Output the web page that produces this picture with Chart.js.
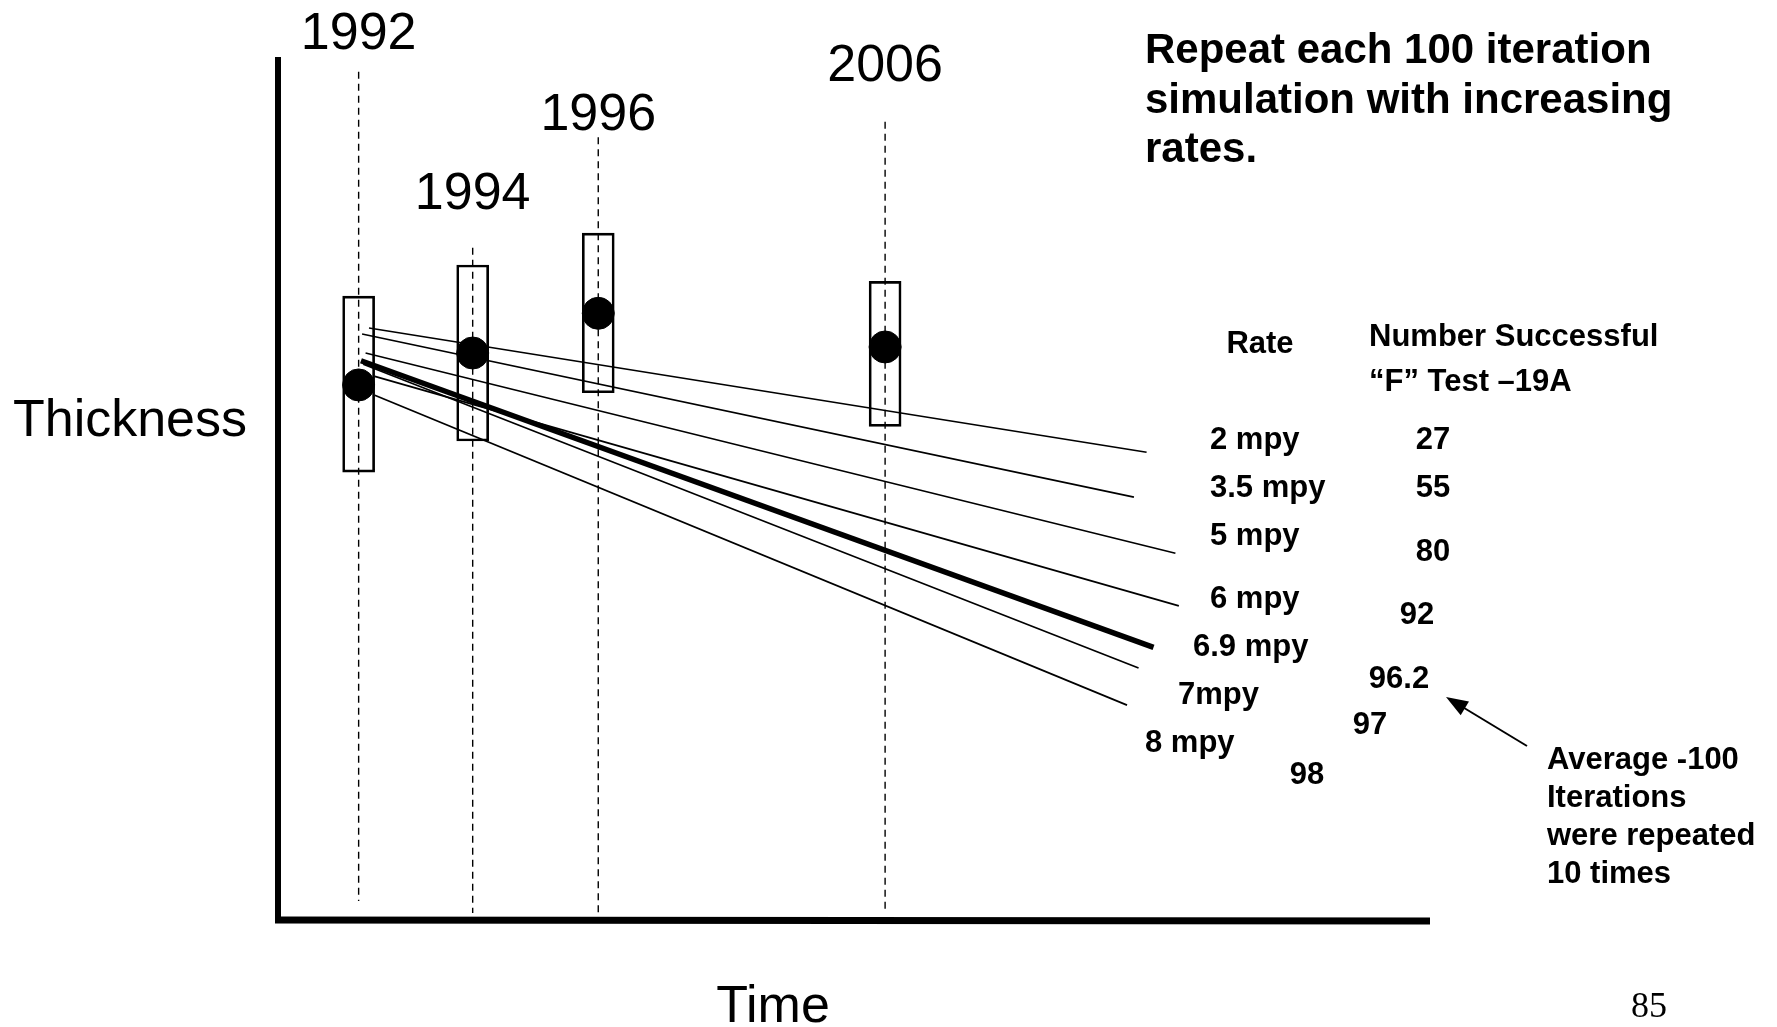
<!DOCTYPE html>
<html>
<head>
<meta charset="utf-8">
<script src="https://cdn.jsdelivr.net/npm/chart.js@4.4.0/dist/chart.umd.min.js"></script>
<style>
  html, body { margin: 0; padding: 0; background: #fff; }
  #wrap { width: 1777px; height: 1027px; position: relative; }
</style>
</head>
<body>
<div id="wrap"><canvas id="chart-thickness"></canvas></div>
<script>
// inspection years, placed on a schematic (non linear) time axis, 0..100
const years = ['1992', '1994', '1996', '2006'];
const timePos = [7.0, 16.9, 27.8, 52.7];
// measured thickness (dot) and its spread (box), schematic units 0..100
const thickness = [62.0, 65.7, 70.3, 66.4];
const boxLow = [51.9, 55.5, 61.1, 57.2];
const boxHigh = [72.3, 75.9, 79.6, 74.0];
// dashed year guides
const guideTop = [98.3, 77.9, 90.7, 92.5];
const guideBottom = [2.2, 0.8, 0.8, 0.8];

// simulated corrosion rates
const rates = ['2 mpy', '3.5 mpy', '5 mpy', '6 mpy', '6.9 mpy', '7mpy', '8 mpy'];
const successCount = ['27', '55', '80', '92', '96.2', '97', '98'];
const rateStartX = [7.9, 7.3, 7.6, 8.4, 7.2, 7.4, 8.4];
const rateStartY = [68.6, 67.9, 65.7, 63.0, 64.8, 64.4, 60.8];
const rateEndX = [75.4, 74.3, 77.9, 78.2, 76.0, 74.7, 73.7];
const rateEndY = [54.2, 49.0, 42.5, 36.4, 31.6, 29.2, 24.9];
const highlightRate = '6.9 mpy';

const SANS = "'Liberation Sans', Arial, Helvetica, sans-serif";

var datasets = [];

// dashed guides
for (let i = 0; i < years.length; i++) {
    datasets.push({
        type: 'line',
        data: [{x: timePos[i], y: guideTop[i]}, {x: timePos[i], y: guideBottom[i]}],
        borderColor: '#000',
        borderWidth: 1.4,
        borderDash: [7, 5],
        pointRadius: 0,
        order: 5
    });
}

// boxes
datasets.push({
    type: 'bar',
    data: timePos.map((x, i) => ({x: x, y: [boxLow[i], boxHigh[i]]})),
    backgroundColor: 'rgba(0,0,0,0)',
    borderColor: '#000',
    borderWidth: 2,
    borderSkipped: false,
    barThickness: 32,
    order: 4
});

// rate lines
for (let i = 0; i < rates.length; i++) {
    datasets.push({
        type: 'line',
        label: rates[i],
        data: [{x: rateStartX[i], y: rateStartY[i]}, {x: rateEndX[i], y: rateEndY[i]}],
        borderColor: '#000',
        borderWidth: rates[i] === highlightRate ? 5.5 : 1.7,
        pointRadius: 0,
        order: 2
    });
}

// dots
datasets.push({
    type: 'scatter',
    data: timePos.map((x, i) => ({x: x, y: thickness[i]})),
    backgroundColor: '#000',
    borderColor: '#000',
    pointRadius: 16,
    order: 1
});

const decorations = {
    id: 'decorations',
    afterDraw(chart) {
        const ctx = chart.ctx;
        const a = chart.chartArea;
        const xs = chart.scales.x;
        ctx.save();

        // axes
        ctx.strokeStyle = '#000';
        ctx.lineCap = 'butt';
        ctx.lineWidth = 6;
        ctx.beginPath();
        ctx.moveTo(a.left, a.top);
        ctx.lineTo(a.left, a.bottom + 3);
        ctx.stroke();
        ctx.lineWidth = 7;
        ctx.beginPath();
        ctx.moveTo(a.left - 3, a.bottom);
        ctx.lineTo(a.right, a.bottom + 1);
        ctx.stroke();

        ctx.fillStyle = '#000';
        ctx.textAlign = 'center';
        ctx.textBaseline = 'middle';

        // year labels
        const yearLabelY = [35, 195, 116, 67];
        ctx.font = '52px ' + SANS;
        years.forEach((y, i) => ctx.fillText(y, xs.getPixelForValue(timePos[i]), yearLabelY[i]));

        ctx.fillText('Thickness', 130, 422);
        ctx.textBaseline = 'alphabetic';
        ctx.fillText('Time', 773, 1022);

        ctx.font = '36px ' + "'Liberation Serif', 'Times New Roman', serif";
        ctx.fillText('85', 1649, 1017);

        // title
        ctx.textAlign = 'left';
        ctx.font = 'bold 42px ' + SANS;
        ctx.fillText('Repeat each 100 iteration', 1145, 63);
        ctx.fillText('simulation with increasing', 1145, 113);
        ctx.fillText('rates.', 1145, 162);

        // table
        ctx.textBaseline = 'middle';
        ctx.font = 'bold 31px ' + SANS;
        ctx.textAlign = 'center';
        ctx.fillText('Rate', 1260, 344);
        ctx.textAlign = 'left';
        ctx.fillText('Number Successful', 1369, 337);
        ctx.fillText('\u201CF\u201D Test \u201319A', 1369, 382);

        const rateX = [1210, 1210, 1210, 1210, 1193, 1178, 1145];
        const rateY = [440, 488, 536, 599, 647, 695, 743];
        const numX = [1433, 1433, 1433, 1417, 1399, 1370, 1307];
        const numY = [440, 488, 552, 615, 679, 725, 775];
        rates.forEach((r, i) => {
            ctx.textAlign = 'left';
            ctx.fillText(r, rateX[i], rateY[i]);
            ctx.textAlign = 'center';
            ctx.fillText(successCount[i], numX[i], numY[i]);
        });

        // note + arrow
        ctx.textAlign = 'left';
        ['Average -100', 'Iterations', 'were repeated', '10 times'].forEach((t, i) => {
            ctx.fillText(t, 1547, 760 + i * 38);
        });
        const tx = 1446, ty = 697, fx = 1527, fy = 746;
        const ang = Math.atan2(ty - fy, tx - fx);
        ctx.lineWidth = 2;
        ctx.beginPath();
        ctx.moveTo(fx, fy);
        ctx.lineTo(tx - 14 * Math.cos(ang), ty - 14 * Math.sin(ang));
        ctx.stroke();
        ctx.beginPath();
        ctx.moveTo(tx, ty);
        ctx.lineTo(tx - 22 * Math.cos(ang) + 8 * Math.sin(ang), ty - 22 * Math.sin(ang) - 8 * Math.cos(ang));
        ctx.lineTo(tx - 22 * Math.cos(ang) - 8 * Math.sin(ang), ty - 22 * Math.sin(ang) + 8 * Math.cos(ang));
        ctx.closePath();
        ctx.fill();

        ctx.restore();
    }
};

var ctx = document.getElementById('chart-thickness').getContext('2d');
var chartThickness = new Chart(ctx, {
    type: 'line',
    data: { datasets: datasets },
    options: {
        responsive: true,
        maintainAspectRatio: false,
        animation: false,
        layout: { padding: { left: 278, right: 347, top: 57, bottom: 107 } },
        plugins: { legend: { display: false }, tooltip: { enabled: false } },
        elements: { line: { tension: 0 } },
        datasets: { line: { clip: false }, bar: { clip: false }, scatter: { clip: false } },
        scales: {
            x: { type: 'linear', min: 0, max: 100, offset: false, display: false },
            y: { type: 'linear', min: 0, max: 100, display: false }
        }
    },
    plugins: [decorations]
});
</script>
</body>
</html>
